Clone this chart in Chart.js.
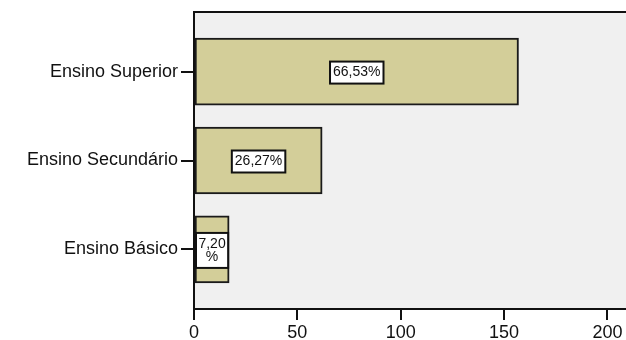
<!DOCTYPE html>
<html>
<head>
<meta charset="utf-8">
<script src="https://cdn.jsdelivr.net/npm/chart.js@4.4.1/dist/chart.umd.min.js"></script>
<style>
  html, body { margin: 0; padding: 0; background: #ffffff; }
  #wrap { width: 626px; height: 340px; }
</style>
</head>
<body>
<div id="wrap"><canvas id="chart" width="626" height="340"></canvas></div>
<script>
// Education level of respondents (counts), top to bottom
const categories = ['Ensino Superior', 'Ensino Secundário', 'Ensino Básico'];
const counts = [157, 62, 17];
const xTickValues = [0, 50, 100, 150, 200];

const total = counts.reduce((a, b) => a + b, 0);
const percentLabels = counts.map(c => (c / total * 100).toFixed(2).replace('.', ',') + '%');

const FONT = '"Liberation Sans", Arial, sans-serif';

// Plot panel: grey fill, top frame line and the outward tick marks on the value axis
const panelPlugin = {
  id: 'panel',
  beforeDraw(chart) {
    const { ctx, chartArea: a } = chart;
    ctx.save();
    ctx.fillStyle = '#f0f0f0';
    ctx.fillRect(a.left, a.top, a.right - a.left, a.bottom - a.top);
    ctx.restore();
  },
  afterDraw(chart) {
    const { ctx, chartArea: a } = chart;
    const xs = chart.scales.x;
    ctx.save();
    ctx.strokeStyle = '#111';
    ctx.lineWidth = 2;
    ctx.beginPath();
    ctx.moveTo(a.left, a.top);
    ctx.lineTo(a.right, a.top);
    xTickValues.forEach(v => {
      const px = Math.round(xs.getPixelForValue(v));
      ctx.moveTo(px, a.bottom);
      ctx.lineTo(px, a.bottom + 11);
    });
    ctx.stroke();
    ctx.restore();
  }
};

// Boxed percentage labels centred on each bar
const boxLabelPlugin = {
  id: 'boxLabels',
  afterDatasetsDraw(chart) {
    const { ctx } = chart;
    const meta = chart.getDatasetMeta(0);
    ctx.save();
    ctx.font = '14px ' + FONT;
    ctx.textAlign = 'center';
    ctx.textBaseline = 'middle';
    meta.data.forEach((bar, i) => {
      const p = bar.getProps(['x', 'y', 'base'], true);
      const left = Math.min(p.x, p.base);
      const right = Math.max(p.x, p.base);
      const barW = right - left;
      const cx = (left + right) / 2;
      const text = percentLabels[i];
      const tw = ctx.measureText(text).width;
      let lines, bw, bh;
      if (tw + 6 > barW - 2) {
        lines = [text.slice(0, -1), '%'];
        bw = barW - 2;
        bh = 35;
      } else {
        lines = [text];
        bw = tw + 6;
        bh = 22;
      }
      const bx = cx - bw / 2;
      const by = p.y - bh / 2 + 1;
      ctx.fillStyle = '#ffffff';
      ctx.fillRect(bx, by, bw, bh);
      ctx.strokeStyle = '#111';
      ctx.lineWidth = 2;
      ctx.strokeRect(bx, by, bw, bh);
      ctx.fillStyle = '#111';
      const lh = 13;
      const y0 = by + bh / 2 - (lines.length - 1) * lh / 2;
      lines.forEach((ln, k) => ctx.fillText(ln, cx, y0 + k * lh));
    });
    ctx.restore();
  }
};

new Chart(document.getElementById('chart'), {
  type: 'bar',
  data: {
    datasets: [{
      data: counts.map((c, i) => ({ x: c, y: i })),
      backgroundColor: '#d3ce99',
      borderColor: '#1a1a1a',
      borderWidth: 2,
      borderSkipped: false,
      barThickness: 67
    }]
  },
  options: {
    indexAxis: 'y',
    responsive: false,
    animation: false,
    devicePixelRatio: 1,
    layout: { padding: { top: 12, right: 0, bottom: 0, left: 0 } },
    plugins: {
      legend: { display: false },
      tooltip: { enabled: false }
    },
    scales: {
      x: {
        type: 'linear',
        position: 'bottom',
        min: 0,
        max: 209,
        afterBuildTicks(s) { s.ticks = xTickValues.map(v => ({ value: v })); },
        afterFit(s) { s.height = 31; s.paddingLeft = 0; s.paddingRight = 0; },
        grid: { drawOnChartArea: false, drawTicks: true, tickLength: 11, color: '#111', lineWidth: 2 },
        border: { display: true, color: '#111', width: 2 },
        ticks: { color: '#111', font: { family: FONT, size: 18 }, padding: 2, maxRotation: 0 }
      },
      y: {
        type: 'linear',
        reverse: true,
        offset: false,
        min: -0.67,
        max: 2.67,
        afterBuildTicks(s) { s.ticks = categories.map((_, i) => ({ value: i })); },
        afterFit(s) { s.width = 194; s.paddingTop = 0; s.paddingBottom = 0; },
        grid: { offset: false, drawOnChartArea: false, drawTicks: true, tickLength: 13, color: '#111', lineWidth: 2 },
        border: { display: true, color: '#111', width: 2 },
        ticks: {
          color: '#111',
          font: { family: FONT, size: 18 },
          padding: 3,
          callback: v => categories[v]
        }
      }
    }
  },
  plugins: [panelPlugin, boxLabelPlugin]
});
</script>
</body>
</html>
